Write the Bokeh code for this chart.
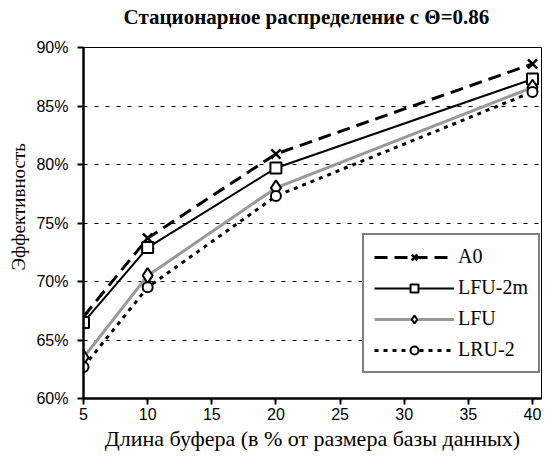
from bokeh.plotting import figure
from bokeh.models import (Legend, LegendItem, Title, PrintfTickFormatter,
                          FixedTicker, Range1d)
from bokeh.embed import file_html
from bokeh.resources import INLINE

# ---- data ----
buffer_len = [5, 10, 20, 40]
a0 = [67.0, 73.7, 80.9, 88.6]
lfu_2m = [66.5, 72.9, 79.7, 87.3]
lfu = [63.5, 70.5, 78.0, 86.6]
lru_2 = [62.7, 69.5, 77.3, 86.2]
x_ticks = [5, 10, 15, 20, 25, 30, 35, 40]
y_ticks = [60, 65, 70, 75, 80, 85, 90]

title_text = "Стационарное распределение с Θ=0.86"
x_label = "Длина буфера (в % от размера базы данных)"
y_label = "Эффективность"

p = figure(width=545, height=461, output_backend="svg", toolbar_location=None,
           title=None,
           x_range=Range1d(5, 40.7), y_range=Range1d(60, 90),
           min_border_left=83, min_border_right=4, min_border_top=47,
           min_border_bottom=63)

p.outline_line_color = "black"
p.outline_line_width = 1
p.background_fill_color = "white"
p.border_fill_color = "white"

# spacer between frame and title, then the title itself (outer)
spacer = Title(text=" ", text_font_size="1px", standoff=16)
p.add_layout(spacer, "above")
main_title = Title(text=title_text, align="left", offset=40, standoff=0,
                   text_font="Liberation Serif", text_font_size="21px",
                   text_font_style="bold", text_color="black")
p.add_layout(main_title, "above")

# grid
p.xgrid.grid_line_color = None
p.ygrid.grid_line_color = "black"
p.ygrid.grid_line_dash = "4 7"
p.ygrid.grid_line_width = 1

# axes
for ax in (p.xaxis[0], p.yaxis[0]):
    ax.axis_line_width = 2.5
    ax.axis_line_color = "black"
    ax.major_tick_line_width = 2
    ax.major_tick_line_color = "black"
    ax.major_tick_in = 0
    ax.major_tick_out = 6
    ax.minor_tick_line_color = None
    ax.major_label_text_font = "Liberation Sans"
    ax.major_label_text_font_size = "16px"
    ax.major_label_text_color = "black"
    ax.axis_label_text_font = "Liberation Serif"
    ax.axis_label_text_font_size = "22px"
    ax.axis_label_text_font_style = "normal"
    ax.axis_label_text_color = "black"

p.xaxis.ticker = FixedTicker(ticks=x_ticks)
p.yaxis.ticker = FixedTicker(ticks=y_ticks)
p.yaxis.formatter = PrintfTickFormatter(format="%d%%")
p.xaxis.axis_label = x_label
p.xaxis.major_label_standoff = 3
p.yaxis.major_label_standoff = 9
p.xaxis.axis_label_standoff = 3

ytitle = Title(text=y_label, align="left", offset=128,
               text_font="Liberation Serif", text_font_size="19px",
               text_font_style="normal", text_color="black", standoff=9)
p.add_layout(ytitle, "left")

# series
r_a0_l = p.line(buffer_len, a0, line_color="black", line_width=3, line_dash="13 7")
r_a0_m = p.scatter(buffer_len, a0, marker="x", size=13, line_color="black", line_width=2.5)

r_l2_l = p.line(buffer_len, lfu_2m, line_color="black", line_width=2)
r_l2_m = p.scatter(buffer_len, lfu_2m, marker="square", size=11, line_color="black",
                   line_width=2, fill_color="white")

r_lf_l = p.line(buffer_len, lfu, line_color="#999999", line_width=3)
r_lf_m = p.scatter(buffer_len, lfu, marker="diamond", size=15, line_color="black",
                   line_width=2, fill_color="white")

r_lr_l = p.line(buffer_len, lru_2, line_color="black", line_width=3, line_dash="4 5")
r_lr_m = p.scatter(buffer_len, lru_2, marker="circle", size=10, line_color="black",
                   line_width=2, fill_color="white")

legend = Legend(items=[
    LegendItem(label="A0", renderers=[r_a0_l, r_a0_m]),
    LegendItem(label="LFU-2m", renderers=[r_l2_l, r_l2_m]),
    LegendItem(label="LFU", renderers=[r_lf_l, r_lf_m]),
    LegendItem(label="LRU-2", renderers=[r_lr_l, r_lr_m]),
], location=(279, 25))
legend.glyph_width = 80
legend.glyph_height = 20
legend.label_height = 20
legend.spacing = 8
legend.padding = 10
legend.margin = 0
legend.label_standoff = 4
legend.label_text_font = "Liberation Serif"
legend.label_text_font_size = "20px"
legend.label_text_color = "black"
legend.border_line_color = "black"
legend.border_line_width = 2
legend.background_fill_color = "white"
legend.background_fill_alpha = 1
p.add_layout(legend, "center")

open("out.html", "w").write(file_html(p, INLINE))
